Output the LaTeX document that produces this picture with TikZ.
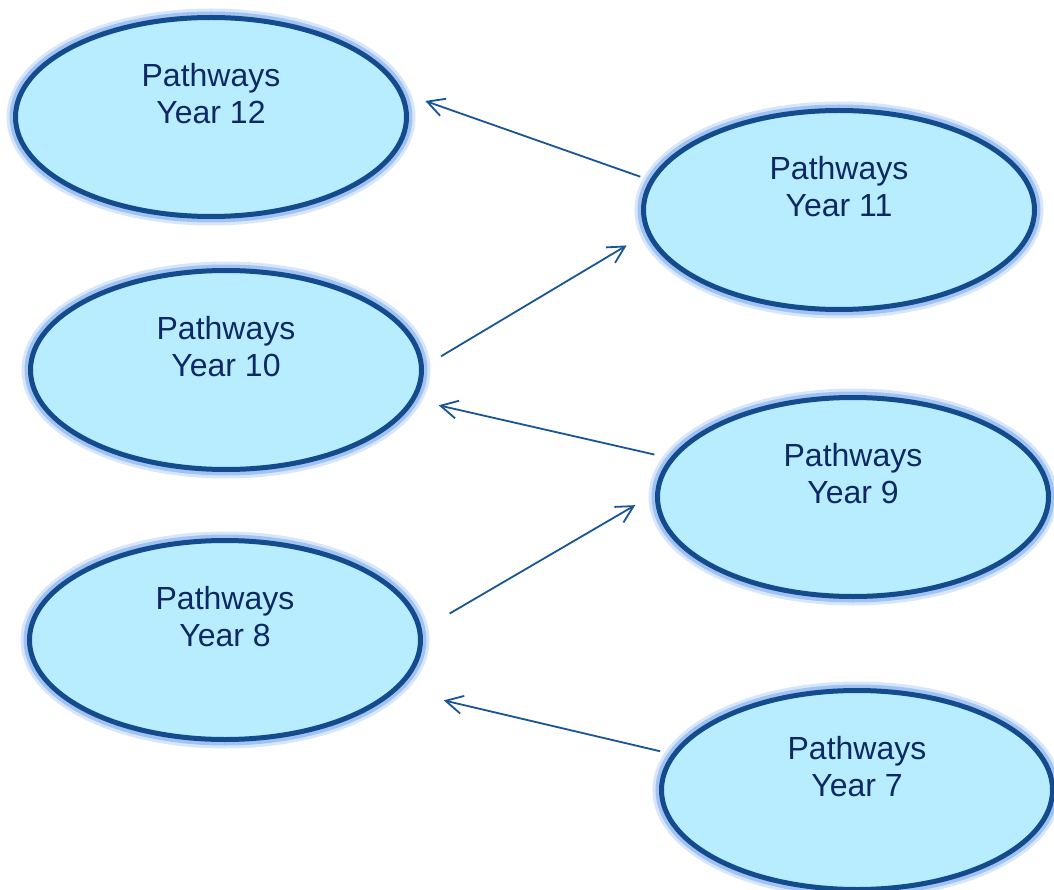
\documentclass[tikz,border=0pt]{standalone}
\usepackage{fontspec}
\setmainfont{Liberation Sans}
\usepackage{tikz}
\usetikzlibrary{shapes.geometric,arrows.meta}
\definecolor{pathfill}{RGB}{183,237,255}
\definecolor{pathline}{RGB}{20,75,140}
\definecolor{pathglow}{RGB}{125,172,238}
\definecolor{pathtext}{RGB}{14,40,100}
\definecolor{patharrow}{RGB}{25,85,150}

\begin{document}
\begin{tikzpicture}[x=1pt,y=-1pt,
    yeartext/.style={text=pathtext,align=center,font=\fontsize{32}{37}\selectfont,yshift=23pt},
    year/.style={ellipse,draw=pathline,line width=5pt,fill=pathfill,
        minimum width=391pt,minimum height=199pt,
        preaction={draw=pathglow,line width=18pt,opacity=0.3},
        preaction={draw=pathglow,line width=12pt,opacity=0.6},
        label={[yeartext]center:Pathways\\Year #1}},
    link/.style={draw=patharrow,line width=1.8pt,-{Straight Barb[length=17pt,width=18pt]}}]
            \useasboundingbox (0,0) rectangle (1054,890);
            \clip (0,0) rectangle (1054,890);
            \node[year=12] (y12) at (211,117) {};
            \node[year=11] (y11) at (839,210) {};
            \node[year=10] (y10) at (226,370) {};
            \node[year=9] (y9) at (853,497) {};
            \node[year=8] (y8) at (225,640) {};
            \node[year=7] (y7) at (857,790) {};
            \draw[link,shorten <=10pt,shorten >=23pt] (y11.171) -- (y12.7);
            \draw[link,shorten <=20pt,shorten >=23pt] (y10.1) -- (y11.187);
            \draw[link,shorten <=16pt,shorten >=24pt] (y9.168) -- (y10.351);
            \draw[link,shorten <=32pt,shorten >=23pt] (y8.3) -- (y9.179);
            \draw[link,shorten <=12pt,shorten >=47pt] (y7.169) -- (y8.344);
        \end{tikzpicture}
\end{document}
